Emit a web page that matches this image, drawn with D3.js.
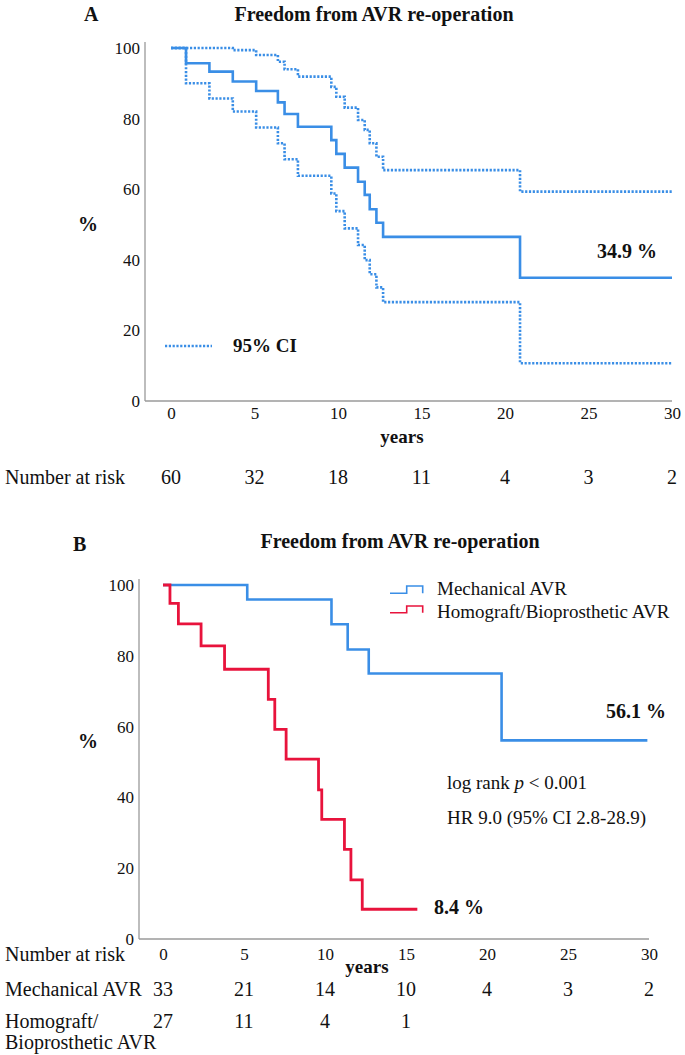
<!DOCTYPE html>
<html><head><meta charset="utf-8">
<script src="https://cdn.jsdelivr.net/npm/d3@7"></script>
<style>
body{margin:0;background:#fff;}
svg{display:block;font-family:"Liberation Serif","Times New Roman",serif;}
</style></head>
<body><svg id="c" width="685" height="1055"></svg>
<script>
// ---------- Data ----------
const titleText = "Freedom from AVR re-operation";
const xTicks = [0,5,10,15,20,25,30];
const yTicks = [0,20,40,60,80,100];

// Panel A (overall KM with 95% CI)
const timesA = [0,0.9,2.3,3.7,5.1,6.4,6.8,7.6,9.6,9.9,10.4,11.2,11.6,11.9,12.3,12.7,20.9,30];
const survA  = [100,95.7,93.3,90.5,87.8,84.6,81.3,77.7,73.9,70.0,66.1,62.1,58.4,54.3,50.5,46.5,34.9,34.9];
const upperA = [100,100,100,99.4,98.0,96.1,94.0,91.9,89.0,86.2,83.1,79.6,76.8,73.0,69.2,65.4,59.3,59.3];
const lowerA = [100,90.0,85.7,82.0,77.5,73.0,68.5,63.8,58.8,53.8,48.9,44.2,39.9,35.9,32.2,28.0,10.7,10.7];
const riskA  = [60,32,18,11,4,3,2];

// Panel B (by valve type)
const mechTimes = [0,5.2,10.4,11.4,12.7,20.9,29.9];
const mechSurv  = [100,95.9,88.9,81.8,75.0,56.1,56.1];
const homoTimes = [0,0.43,0.95,2.35,3.8,6.5,6.9,7.6,9.6,9.8,11.2,11.6,12.3,15.7];
const homoSurv  = [100,94.8,89.0,82.8,76.2,67.7,59.2,50.8,42.1,33.8,25.3,16.7,8.4,8.4];
const riskMech  = [33,21,14,10,4,3,2];
const riskHomo  = [27,11,4,1];
const groupNames = ["Mechanical AVR","Homograft/Bioprosthetic AVR"];

// ---------- Drawing ----------
const FONT = "Liberation Serif";
const BLUE = "#3a8ee6", RED = "#e8133c", AXIS = "#9a9a9a";
const svg = d3.select("#c");

function panel(opt){
  const x = d3.scaleLinear().domain([0,30]).range(opt.xr);
  const y = d3.scaleLinear().domain([0,100]).range(opt.yr);
  const g = svg.append("g");
  g.append("line").attr("x1",opt.axX).attr("x2",opt.axX).attr("y1",y(101.7)).attr("y2",y(0))
    .attr("stroke",AXIS).attr("stroke-width",1.3);
  g.append("line").attr("x1",opt.axX).attr("x2",x(30)).attr("y1",y(0)).attr("y2",y(0))
    .attr("stroke",AXIS).attr("stroke-width",1.3);
  const ya = g.append("g").attr("transform",`translate(${opt.axX},0)`)
    .call(d3.axisLeft(y).tickValues(yTicks).tickSize(0).tickPadding(5))
    .attr("font-family",FONT).attr("font-size",17);
  ya.select(".domain").remove();
  ya.selectAll("text").attr("fill","#111");
  const xa = g.append("g").attr("transform",`translate(0,${y(0)})`)
    .call(d3.axisBottom(x).tickValues(xTicks).tickSize(0).tickPadding(opt.xPad))
    .attr("font-family",FONT).attr("font-size",17);
  xa.select(".domain").remove();
  xa.selectAll("text").attr("fill","#111");
  return {x,y,g};
}

function km(p, times, vals, color, w, dash){
  const pts = times.map((t,i)=>[t,vals[i]]);
  const line = d3.line().x(d=>p.x(d[0])).y(d=>p.y(d[1])).curve(d3.curveStepAfter);
  const path = p.g.append("path").attr("d",line(pts)).attr("fill","none")
    .attr("stroke",color).attr("stroke-width",w);
  if(dash) path.attr("stroke-dasharray",dash);
}

function text(t,x,y,size,opts={}){
  return svg.append("text").attr("x",x).attr("y",y).attr("font-size",size).attr("fill","#111")
    .attr("font-family",FONT)
    .attr("text-anchor",opts.anchor||"start").attr("font-weight",opts.bold?"bold":"normal").text(t);
}

// ----- Panel A -----
const A = panel({xr:[171,672], yr:[401,48], axX:145, xPad:6});
km(A, timesA, upperA, BLUE, 2.6, "2.2,1.6");
km(A, timesA, lowerA, BLUE, 2.6, "2.2,1.6");
km(A, timesA, survA, BLUE, 2.6);
text("A",84,21,20,{bold:true});
text(titleText,374,21,20,{bold:true,anchor:"middle"});
text("%",88,231,20,{bold:true,anchor:"middle"});
text("years",402,443,19,{bold:true,anchor:"middle"});
svg.append("line").attr("x1",165).attr("x2",212).attr("y1",346).attr("y2",346)
  .attr("stroke",BLUE).attr("stroke-width",2.6).attr("stroke-dasharray","2.2,1.6");
text("95% CI",233,352,19,{bold:true});
text("34.9 %",597,258,20,{bold:true});
text("Number at risk",5,484,20);
riskA.forEach((v,i)=>text(v,A.x(xTicks[i]),484,20,{anchor:"middle"}));

// ----- Panel B -----
const B = panel({xr:[163,649], yr:[939,585], axX:139, xPad:9});
km(B, mechTimes, mechSurv, BLUE, 2.6);
km(B, homoTimes, homoSurv, RED, 2.8);
text("B",73,551,20,{bold:true});
text(titleText,400,548,20,{bold:true,anchor:"middle"});
text("%",88,748,20,{bold:true,anchor:"middle"});
text("years",367,973,19,{bold:true,anchor:"middle"});
[[BLUE,593.3,586,595],[RED,612.7,606,618]].forEach((d,i)=>{
  svg.append("path").attr("d",`M390,${d[1]}H406.7V${d[2]}H422.7V${d[1]}`)
    .attr("fill","none").attr("stroke",d[0]).attr("stroke-width",1.6);
  text(groupNames[i],437,d[3],19);
});
text("56.1 %",606,718,20,{bold:true});
text("8.4 %",434,914,20,{bold:true});
const lr = text("log rank ",447,789,19);
lr.append("tspan").attr("font-style","italic").text("p");
lr.append("tspan").text(" < 0.001");
text("HR 9.0 (95% CI 2.8-28.9)",447,824,19);
text("Number at risk",5,961,20);
text("Mechanical AVR",5,996,20);
text("Homograft/",5,1028,20);
text("Bioprosthetic AVR",5,1049,20);
riskMech.forEach((v,i)=>text(v,B.x(xTicks[i]),996,20,{anchor:"middle"}));
riskHomo.forEach((v,i)=>text(v,B.x(xTicks[i]),1028,20,{anchor:"middle"}));
</script></body></html>
